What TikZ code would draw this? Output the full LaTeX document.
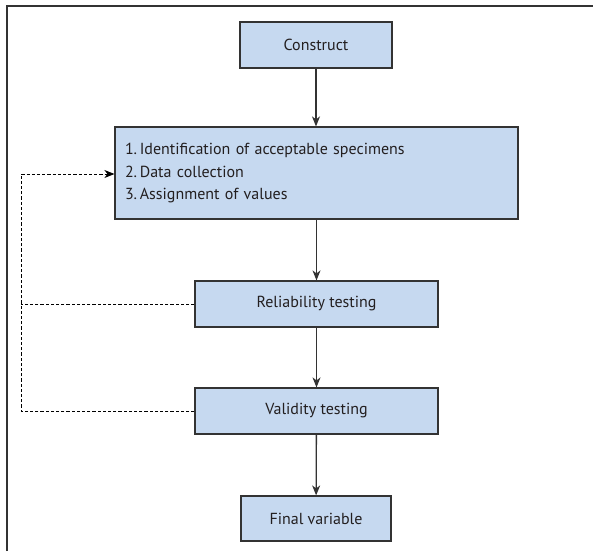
\documentclass[tikz,border=0pt]{standalone}
\usepackage{fontspec}
\setmainfont{PT Sans}
\usetikzlibrary{arrows.meta}
\definecolor{boxfill}{HTML}{C6D9F0}
\definecolor{lineclr}{HTML}{333333}
\definecolor{txtclr}{HTML}{231F20}
\begin{document}
\begin{tikzpicture}[x=1pt,y=-1pt,
  box/.style={draw=lineclr,line width=1.2pt,fill=boxfill,inner sep=0pt,text=txtclr,font=\fontsize{16}{22.5}\selectfont},
  flow/.style={draw=lineclr,line width=1.3pt,-{Stealth[length=10pt,width=8pt,inset=3pt]}},
  fb/.style={draw=black,line width=0.9pt,dash pattern=on 3.2pt off 2pt},
  fba/.style={fb,-{Stealth[length=10pt,width=8pt,inset=3pt]}}]
\useasboundingbox (0,0) rectangle (593,551);
\draw[line width=1.3pt,draw=lineclr] (7,551) -- (7,6) -- (593,6);
\node[box,minimum width=152pt,minimum height=46pt] (c) at (316,45) {Construct};
\node[box,minimum width=403pt,minimum height=92pt,align=left,text width=383pt] (m) at (316.5,173) {1.\,Identification of acceptable specimens\\2.\,Data collection\\3.\,Assignment of values};
\node[box,minimum width=243pt,minimum height=46pt] (r) at (316.5,304) {Reliability testing};
\node[box,minimum width=243pt,minimum height=46pt] (v) at (316.5,411) {Validity testing};
\node[box,minimum width=150pt,minimum height=45pt] (f) at (316,518.5) {Final variable};
\draw[flow] (c) -- (c|-m.north);
\draw[flow] (m.south-|r) -- (r);
\draw[flow] (r) -- (v);
\draw[flow] (v) -- (f);
\coordinate (k) at (21,174);
\draw[fb] (r.west) -- (r.west-|k);
\draw[fba] (v.west) -- (v.west-|k) -- (k) -- (k-|m.west);
\end{tikzpicture}
\end{document}
